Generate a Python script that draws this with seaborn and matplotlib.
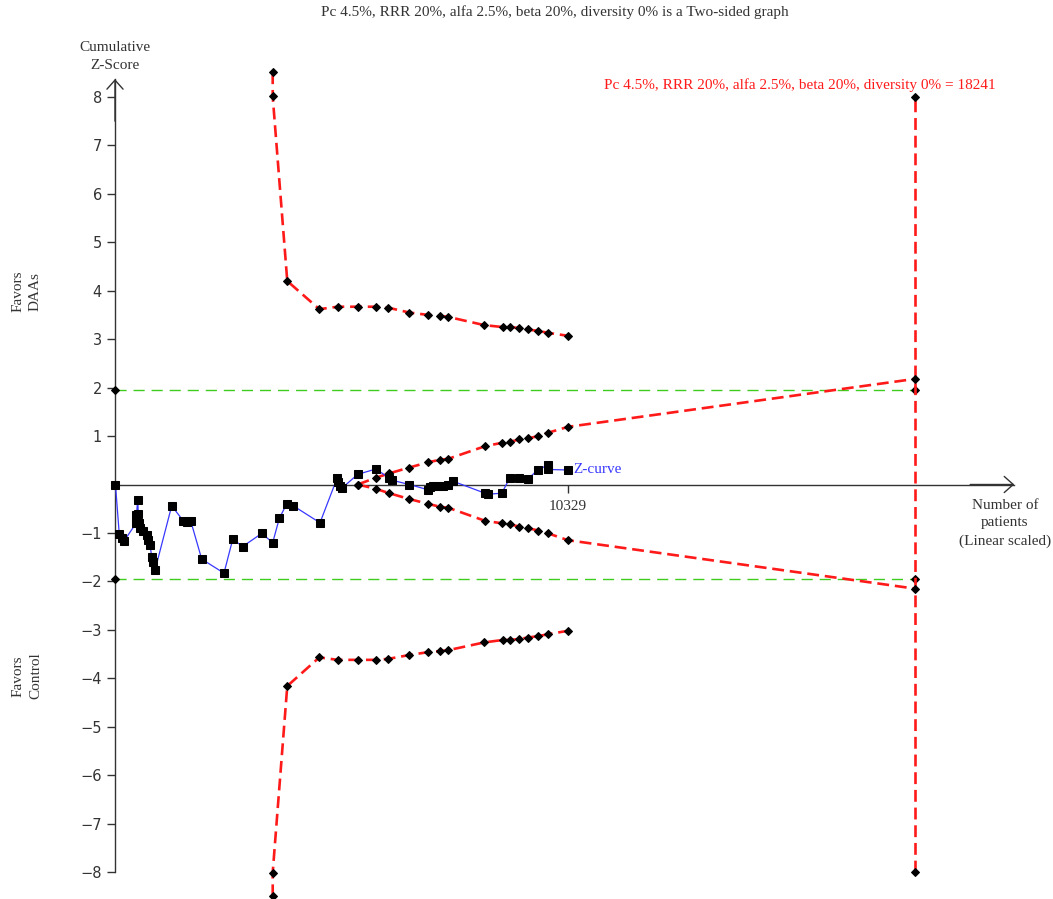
import numpy as np
import pandas as pd
import matplotlib
matplotlib.use("Agg")
import matplotlib.pyplot as plt
import seaborn as sns

# ---------------- data ----------------
# Cumulative Z-curve (cumulative number of patients, cumulative z-score)
z_patients = [10, 98, 153, 205, 479, 490, 518, 531, 554, 570, 645, 723, 759, 798,
              837, 873, 912, 1293, 1557, 1648, 1726, 1977, 2485, 2684, 2912, 3345,
              3596, 3746, 3915, 4065, 4674, 5068, 5091, 5130, 5169, 5534, 5951,
              6254, 6309, 6710, 7143, 7182, 7257, 7371, 7485, 7599, 7700, 8436,
              8511, 8817, 9006, 9211, 9410, 9638, 9866, 9879, 10329]
z_scores = [0.00, -1.03, -1.10, -1.17, -0.80, -0.63, -0.31, -0.60, -0.80, -0.90,
            -0.97, -1.04, -1.15, -1.25, -1.49, -1.59, -1.77, -0.44, -0.75, -0.77,
            -0.75, -1.54, -1.83, -1.13, -1.28, -1.01, -1.20, -0.70, -0.40, -0.44,
            -0.79, 0.14, 0.06, -0.03, -0.08, 0.21, 0.32, 0.13, 0.09, 0.00, -0.11,
            -0.06, -0.04, -0.03, -0.03, -0.01, 0.07, -0.18, -0.20, -0.18, 0.14,
            0.14, 0.11, 0.30, 0.40, 0.31, 0.30]

# Trial sequential monitoring boundaries (benefit / harm)
bound_patients = [3596, 3596, 3928, 4658, 5078, 5534, 5951, 6231, 6710, 7143,
                  7410, 7599, 8420, 8840, 9006, 9211, 9410, 9651, 9879, 10329]
upper_bound = [8.51, 8.01, 4.20, 3.62, 3.67, 3.67, 3.67, 3.65, 3.55, 3.50,
               3.48, 3.46, 3.29, 3.25, 3.25, 3.23, 3.20, 3.17, 3.13, 3.07]
lower_bound = [-8.50, -8.01, -4.16, -3.57, -3.62, -3.62, -3.62, -3.60, -3.52, -3.46,
               -3.44, -3.42, -3.26, -3.21, -3.21, -3.19, -3.16, -3.13, -3.09, -3.02]

# Futility (inner wedge) boundaries
futility_patients = [5534, 5951, 6254, 6710, 7143, 7410, 7599, 8436, 8817, 9006,
                     9211, 9410, 9651, 9879, 10329, 18241]
futility_upper = [0.00, 0.14, 0.23, 0.35, 0.46, 0.51, 0.53, 0.79, 0.86, 0.88,
                  0.93, 0.95, 1.00, 1.07, 1.19, 2.18]
futility_lower = [0.00, -0.09, -0.18, -0.30, -0.40, -0.46, -0.48, -0.75, -0.80, -0.82,
                  -0.87, -0.90, -0.95, -1.01, -1.15, -2.15]

# Conventional boundaries and required information size
conv_patients = [0, 18241]
conv_z = [1.96, 1.96]
ris_patients = [18241, 18241]
ris_z = [-8.0, 8.0]
last_patients = 10329
ris_value = 18241

y_ticks = [-8, -7, -6, -5, -4, -3, -2, -1, 1, 2, 3, 4, 5, 6, 7, 8]
y_ticklabels = ["\u2212" + str(abs(t)) if t < 0 else str(t) for t in y_ticks]

title = "Pc 4.5%, RRR 20%, alfa 2.5%, beta 20%, diversity 0% is a Two-sided graph"
ris_label = "Pc 4.5%, RRR 20%, alfa 2.5%, beta 20%, diversity 0% = 18241"

# ---------------- style ----------------
sns.set_style("white")
plt.rcParams["font.family"] = ["Liberation Serif", "DejaVu Serif"]

W, H = 1053, 899
fig = plt.figure(figsize=(W / 100, H / 100), dpi=100)
ax = fig.add_axes([0, 0, 1, 1])

ppp = last_patients / 453.0      # patients per pixel
zpp = 1 / 48.44                  # z per pixel
x0px, y0px = 115, 484.5
ax.set_xlim(-x0px * ppp, (W - x0px) * ppp)
ax.set_ylim(-(H - y0px) * zpp, y0px * zpp)

RED = "#ff1a1a"
GREEN = "#3fcc1f"
BLUE = "#3838ff"
AX = "#333333"

# conventional boundaries (green)
for s in (1, -1):
    sns.lineplot(x=conv_patients, y=[s * v for v in conv_z], ax=ax, color=GREEN,
                 lw=1.0, linestyle=(0, (8, 5)), marker="D", markersize=4,
                 markerfacecolor="black", markeredgecolor="black",
                 sort=False, estimator=None, zorder=2)

# required information size line
sns.lineplot(x=ris_patients, y=ris_z, ax=ax, color=RED, lw=1.9,
             linestyle=(0, (4.5, 2.2)), marker="D", markersize=4,
             markerfacecolor="black", markeredgecolor="black",
             sort=False, estimator=None, zorder=3)

# monitoring boundaries
for yy in (upper_bound, lower_bound):
    sns.lineplot(x=bound_patients, y=yy, ax=ax, color=RED, lw=1.9,
                 linestyle=(0, (4.5, 2.2)), marker="D", markersize=4,
                 markerfacecolor="black", markeredgecolor="black",
                 sort=False, estimator=None, zorder=3)

# futility boundaries
for yy in (futility_upper, futility_lower):
    sns.lineplot(x=futility_patients, y=yy, ax=ax, color=RED, lw=1.9,
                 linestyle=(0, (4.5, 2.2)), marker="D", markersize=4,
                 markerfacecolor="black", markeredgecolor="black",
                 sort=False, estimator=None, zorder=3)

# Z-curve
sns.lineplot(x=z_patients, y=z_scores, ax=ax, color=BLUE, lw=0.9,
             marker="s", markersize=6.3, markerfacecolor="black",
             markeredgecolor="black", sort=False, estimator=None, zorder=5)

# ---------------- axes ----------------
for side in ("top", "right"):
    ax.spines[side].set_visible(False)
ax.spines["left"].set_position(("data", 0))
ax.spines["bottom"].set_position(("data", 0))
ax.spines["left"].set_bounds(-8, 8.37)
ax.spines["bottom"].set_bounds(0, 20505)
for side in ("left", "bottom"):
    ax.spines[side].set_color(AX)
    ax.spines[side].set_linewidth(1.0)
    ax.spines[side].set_zorder(1)

ax.set_yticks(y_ticks)
ax.set_yticklabels(y_ticklabels)
ax.set_xticks([last_patients])
ax.set_xticklabels([str(last_patients)])
ax.tick_params(axis="y", direction="out", length=5.8, width=1.0, pad=3.6,
               labelsize=10.5, colors=AX, left=True)
ax.tick_params(axis="x", direction="out", length=6, width=1.0, pad=5,
               labelsize=11, colors=AX, bottom=True)
for lbl in ax.get_yticklabels():
    lbl.set_fontfamily("DejaVu Sans")
ax.grid(False)
ax.set_xlabel("")
ax.set_ylabel("")
ax.legend_ = None

# arrow heads
arrow = dict(arrowstyle="->,head_length=0.65,head_width=0.58", color=AX, lw=1.0,
             shrinkA=0, shrinkB=0, mutation_scale=10)
ax.annotate("", xy=(0, 8.37), xytext=(0, 7.5), arrowprops=arrow)
ax.annotate("", xy=(20505, 0), xytext=(19500, 0), arrowprops=arrow)

# ---------------- texts ----------------
fig.text(555 / W, 1 - 12 / H, title, ha="center", va="center", fontsize=11,
         color=AX)
ax.text(ris_value + 1846, 8.25, ris_label, ha="right", va="center",
        fontsize=11, color=RED)
ax.annotate("Z-curve", xy=(last_patients, z_scores[-1]), xytext=(4, 0),
            textcoords="offset points", ha="left", va="center", fontsize=11,
            color=BLUE)
ax.text(0, 8.84, "Cumulative\nZ-Score", ha="center", va="center", fontsize=11,
        color=AX, linespacing=1.45)
ax.text(20292, -0.80, "Number of\npatients\n(Linear scaled)", ha="center",
        va="center", fontsize=11, color=AX, linespacing=1.45)
ax.text(-2006, 3.99, "Favors\nDAAs", ha="center", va="center", rotation=90,
        fontsize=11, color=AX, linespacing=1.4)
ax.text(-2006, -3.95, "Favors\nControl", ha="center", va="center", rotation=90,
        fontsize=11, color=AX, linespacing=1.4)

fig.savefig("out.png", dpi=100)
